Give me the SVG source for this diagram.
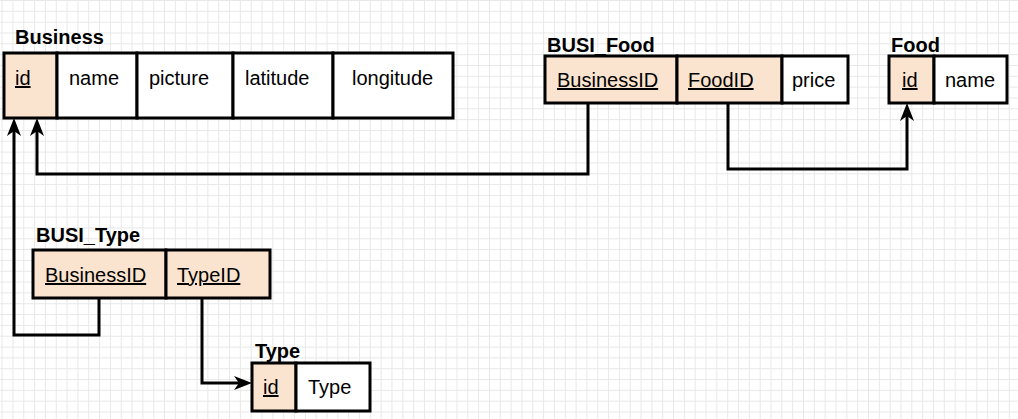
<svg xmlns="http://www.w3.org/2000/svg" width="1018" height="419" viewBox="0 0 1018 419">
<style>
.cell{stroke:#000;stroke-width:3;fill:#fff}
.key{fill:#fbe4cf}
.t{font-family:"Liberation Sans",Arial,sans-serif;font-size:20px;fill:#000}
.u{text-decoration:underline}
.title{font-family:"Liberation Sans",Arial,sans-serif;font-size:20px;font-weight:bold;fill:#000}
.conn{fill:none;stroke:#000;stroke-width:3}
</style>
<defs>
<pattern id="grid" width="10.83" height="10.83" patternUnits="userSpaceOnUse" x="1.6" y="0">
<path d="M0,0.5 H10.83 M0.5,0 V10.83" fill="none" stroke="#e8e8e8" stroke-width="1"/>
</pattern>
<marker id="arr" markerUnits="userSpaceOnUse" markerWidth="40" markerHeight="40" refX="0" refY="0" orient="auto" overflow="visible">
<path d="M10,0 L-8,-7 L-3,0 L-8,7 Z" fill="#000"/>
</marker>
</defs>
<rect width="1018" height="419" fill="#fff"/>
<rect width="1018" height="419" fill="url(#grid)"/>

<g id="connectors">
<path class="conn" d="M588,103 V174 H37 V128" marker-end="url(#arr)"/>
<path class="conn" d="M99,298 V335 H14 V128" marker-end="url(#arr)"/>
<path class="conn" d="M728,103 V169 H907 V113" marker-end="url(#arr)"/>
<path class="conn" d="M202,298 V383 H242" marker-end="url(#arr)"/>
</g>

<g id="Business">
<text class="title" x="15" y="44">Business</text>
<rect class="cell key" x="4" y="53" width="53" height="65"/>
<rect class="cell" x="57" y="53" width="80" height="65"/>
<rect class="cell" x="137" y="53" width="96" height="65"/>
<rect class="cell" x="233" y="53" width="100" height="65"/>
<rect class="cell" x="333" y="53" width="120" height="65"/>
<text class="t u" x="15" y="85">id</text>
<text class="t" x="69" y="85">name</text>
<text class="t" x="149" y="85">picture</text>
<text class="t" x="245" y="85">latitude</text>
<text class="t" x="352" y="85">longitude</text>
</g>

<g id="BUSI_Food">
<text class="title" x="547" y="52">BUSI_Food</text>
<rect class="cell key" x="545" y="56" width="132" height="47"/>
<rect class="cell key" x="677" y="56" width="105" height="47"/>
<rect class="cell" x="782" y="56" width="66" height="47"/>
<text class="t u" x="557" y="87">BusinessID</text>
<text class="t u" x="688" y="87">FoodID</text>
<text class="t" x="792" y="87">price</text>
</g>

<g id="Food">
<text class="title" x="891" y="52">Food</text>
<rect class="cell key" x="889" y="56" width="45" height="47"/>
<rect class="cell" x="934" y="56" width="73" height="47"/>
<text class="t u" x="902" y="87">id</text>
<text class="t" x="945" y="87">name</text>
</g>

<g id="BUSI_Type">
<text class="title" x="36" y="242">BUSI_Type</text>
<rect class="cell key" x="33" y="250" width="133" height="48"/>
<rect class="cell key" x="166" y="250" width="104" height="48"/>
<text class="t u" x="45" y="282">BusinessID</text>
<text class="t u" x="177" y="282">TypeID</text>
</g>

<g id="Type">
<text class="title" x="255" y="358">Type</text>
<rect class="cell key" x="252" y="363" width="44" height="48"/>
<rect class="cell" x="296" y="363" width="74" height="48"/>
<text class="t u" x="263" y="394">id</text>
<text class="t" x="308" y="394">Type</text>
</g>
</svg>
